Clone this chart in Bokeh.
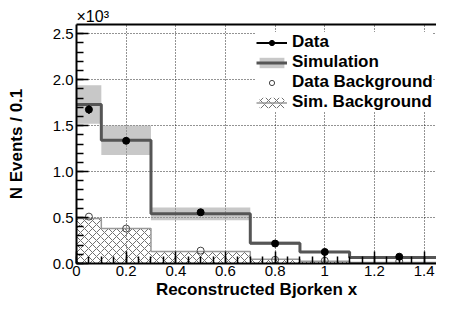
from bokeh.plotting import figure
from bokeh.models import (Range1d, FixedTicker, LinearAxis, Legend, LegendItem,
                          CustomJSTickFormatter)
from bokeh.embed import file_html
from bokeh.resources import INLINE

# ---- data (values in units of 10^3 events) ----
bin_edges = [0.0, 0.1, 0.3, 0.7, 0.9, 1.1, 1.5]
bin_centers = [0.05, 0.2, 0.5, 0.8, 1.0, 1.3]
sim_values = [1.73, 1.34, 0.54, 0.22, 0.126, 0.066]
sim_errors = [0.21, 0.16, 0.07, 0.02, 0.012, 0.008]
data_values = [1.675, 1.335, 0.557, 0.217, 0.126, 0.074]
data_errors = [0.045, 0.035, 0.022, 0.014, 0.011, 0.008]
data_bkg = [0.51, 0.38, 0.14, 0.04, 0.03, 0.025]
sim_bkg = [0.49, 0.38, 0.13, 0.045, 0.025, 0.012]
x_ticks = [0.0, 0.2, 0.4, 0.6, 0.8, 1.0, 1.2, 1.4]
y_ticks = [0.0, 0.5, 1.0, 1.5, 2.0, 2.5]

FONT = "Liberation Sans"

p = figure(width=436, height=302, output_backend="svg", toolbar_location=None,
           x_range=Range1d(0, 1.45), y_range=Range1d(0, 2.6),
           min_border_left=76, min_border_right=0, min_border_top=24, min_border_bottom=39)
p.outline_line_color = None
p.background_fill_color = "white"
p.border_fill_color = "white"

# exponent marker as a left-aligned title
p.title.text = "×10³"
p.title.align = "left"
p.title.text_font = FONT
p.title.text_font_size = "16px"
p.title.text_font_style = "normal"
p.title.text_color = "black"
p.title.standoff = 0
p.title.offset = 0

lo = bin_edges[:-1]
hi = bin_edges[1:]

# simulation uncertainty band
band = p.quad(left=lo, right=hi,
              bottom=[v - e for v, e in zip(sim_values, sim_errors)],
              top=[v + e for v, e in zip(sim_values, sim_errors)],
              fill_color="#9a9a9a", fill_alpha=0.55, line_color=None)

# simulated background (hatched)
bkg_q = p.quad(left=lo, right=hi, bottom=[0] * len(sim_bkg), top=sim_bkg,
               fill_color=None, line_color=None,
               hatch_pattern="diagonal_cross", hatch_color="#707070",
               hatch_scale=8, hatch_weight=1)
bkg_line = p.step(x=bin_edges, y=sim_bkg + [sim_bkg[-1]], mode="after",
                  line_color="#999999", line_width=1.5)

# simulation histogram
sim_line = p.step(x=bin_edges, y=sim_values + [sim_values[-1]], mode="after",
                  line_color="#555555", line_width=3)

# data background (open circles)
dbkg = p.scatter(x=bin_centers, y=data_bkg, marker="circle", size=7,
                 fill_color="white", fill_alpha=0.0, line_color="#444444", line_width=1)

# data points with error bars
err = p.segment(x0=bin_centers, x1=bin_centers,
                y0=[v - e for v, e in zip(data_values, data_errors)],
                y1=[v + e for v, e in zip(data_values, data_errors)],
                line_color="black", line_width=2)
dpts = p.scatter(x=bin_centers, y=data_values, marker="circle", size=7,
                 fill_color="black", line_color="black")
# legend-only tick mark for the "Data" entry (placed outside the visible range)
dtick = p.scatter(x=[-10], y=[-10], marker="cross", size=8, line_color="black", line_width=1.5)

# axes
for ax in (p.xaxis[0], p.yaxis[0]):
    ax.axis_line_width = 2
    ax.axis_line_color = "black"
    ax.major_tick_in = 12
    ax.major_tick_out = 0
    ax.minor_tick_in = 7
    ax.minor_tick_out = 0
    ax.major_tick_line_width = 1.5
    ax.minor_tick_line_width = 1.5
    ax.major_label_text_font = FONT
    ax.major_label_text_font_size = "15px"
    ax.major_label_text_color = "black"
    ax.axis_label_text_font = FONT
    ax.axis_label_text_font_style = "bold"
    ax.axis_label_text_font_size = "17px"
    ax.axis_label_text_color = "black"

p.xaxis[0].major_label_standoff = 2
p.yaxis[0].major_label_standoff = 3
p.xaxis[0].ticker = FixedTicker(ticks=x_ticks,
                                minor_ticks=[i * 0.05 for i in range(0, 30)])
p.yaxis[0].ticker = FixedTicker(ticks=y_ticks,
                                minor_ticks=[i * 0.1 for i in range(0, 26)])
p.xaxis[0].formatter = CustomJSTickFormatter(code="return String(Number(tick.toFixed(1)));")
p.yaxis[0].formatter = CustomJSTickFormatter(code="return tick.toFixed(1);")
p.xaxis[0].axis_label = "Reconstructed Bjorken x"
p.yaxis[0].axis_label = "N Events / 0.1"
p.xaxis[0].axis_label_standoff = 1
p.yaxis[0].axis_label_standoff = 24

# top frame line
top_ax = LinearAxis(ticker=FixedTicker(ticks=[]), major_tick_in=0, major_tick_out=0,
                    minor_tick_in=0, minor_tick_out=0, major_label_text_font_size="0px",
                    axis_line_width=2, axis_line_color="black")
p.add_layout(top_ax, "above")

# grid
p.xgrid.ticker = FixedTicker(ticks=x_ticks)
p.ygrid.ticker = FixedTicker(ticks=y_ticks)
for g in (p.xgrid[0], p.ygrid[0]):
    g.grid_line_color = "black"
    g.grid_line_dash = "1 2"
    g.grid_line_width = 1
    g.grid_line_alpha = 0.85

legend = Legend(items=[
    LegendItem(label="Data", renderers=[err, dtick, dpts]),
    LegendItem(label="Simulation", renderers=[band, sim_line]),
    LegendItem(label="Data Background", renderers=[dbkg]),
    LegendItem(label="Sim. Background", renderers=[bkg_q, bkg_line]),
], location=(180, 151))
legend.label_text_font = FONT
legend.label_text_font_style = "bold"
legend.label_text_font_size = "17px"
legend.label_text_color = "black"
legend.label_height = 17
legend.glyph_height = 13
legend.glyph_width = 31
legend.spacing = -2
legend.padding = 2
legend.margin = 0
legend.label_standoff = 5
legend.border_line_color = None
legend.background_fill_color = "white"
legend.background_fill_alpha = 1.0
p.add_layout(legend, "center")

open("out.html", "w").write(file_html(p, INLINE))
